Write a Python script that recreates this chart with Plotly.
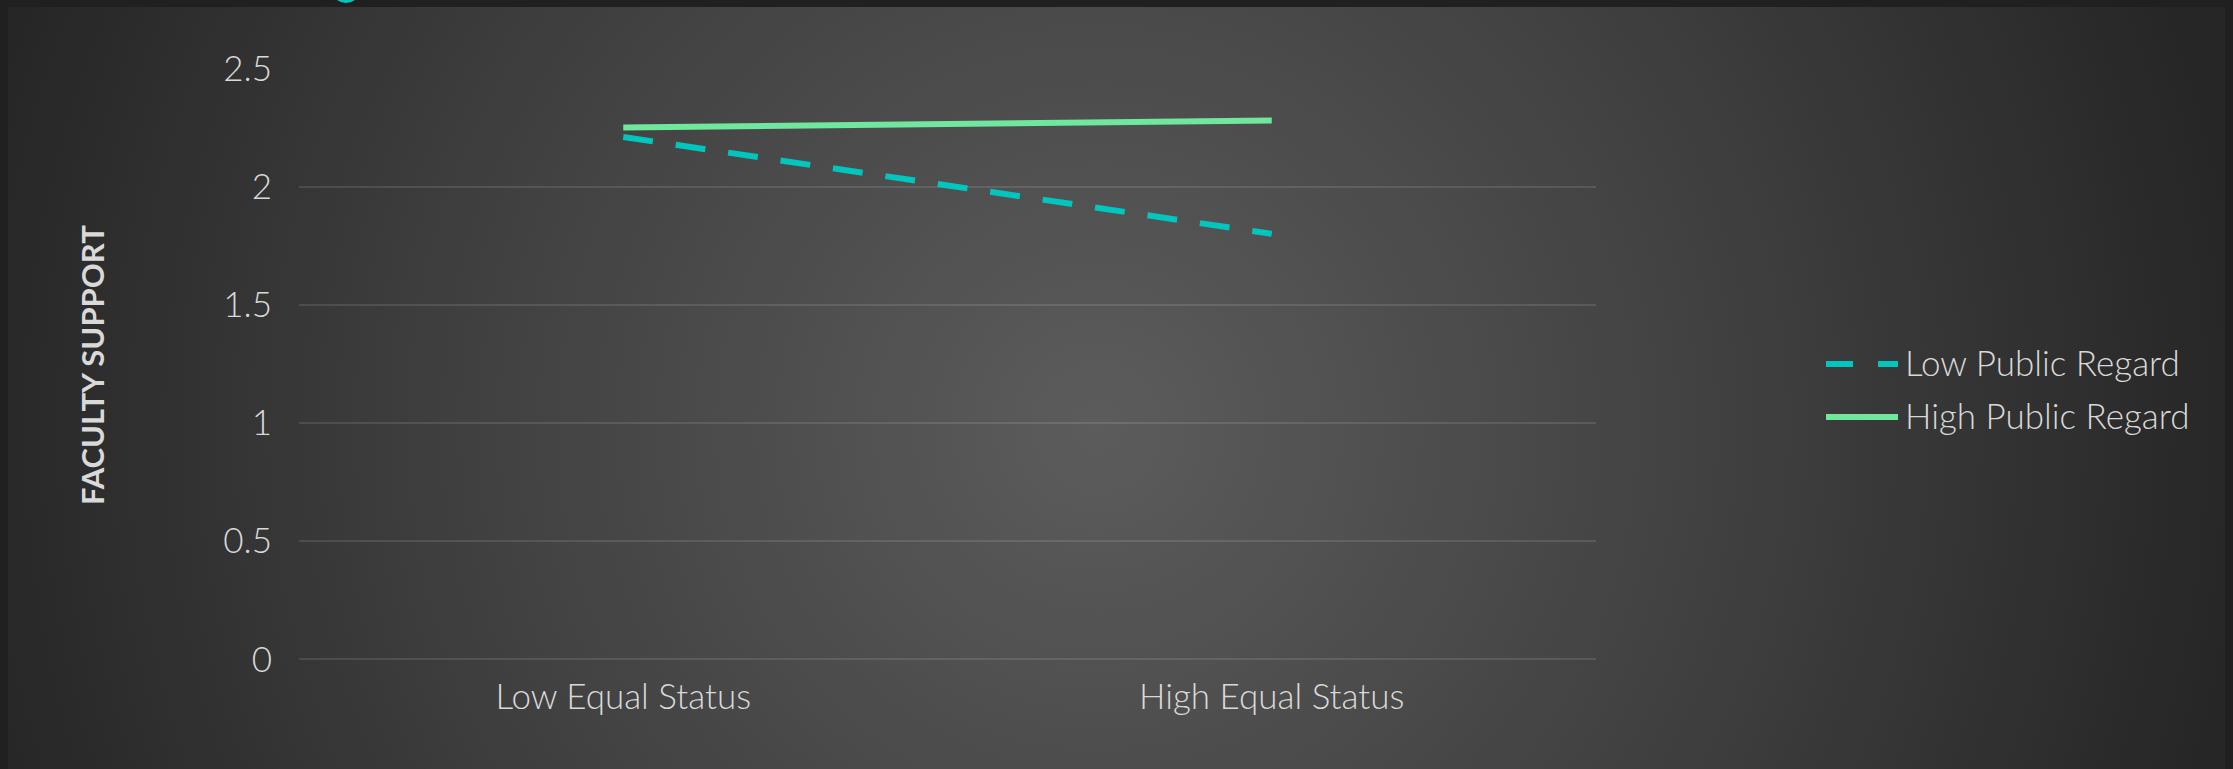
import base64
import plotly.graph_objects as go

# Chart data
categories = ["Low Equal Status", "High Equal Status"]
series_names = ["Low Public Regard", "High Public Regard"]
low_public_regard = [2.21, 1.80]
high_public_regard = [2.25, 2.28]
y_ticks = [0, 0.5, 1, 1.5, 2, 2.5]
y_tick_labels = ["0", "0.5", "1", "1.5", "2", "2.5"]
y_title = "FACULTY SUPPORT"

W, H = 2233, 769
TEAL = "#00c6bd"
GREEN = "#6fe79c"
TEXT = "#d9d9d9"
FONT = "Lato, 'Open Sans', sans-serif"
LABEL_SIZE = 35
LINE_W = 6


def px_x(x):
    return x / W


def px_y(y):
    return 1 - y / H


# Radial gradient backdrop for the slide panel
svg = (
    "<svg xmlns='http://www.w3.org/2000/svg' width='2217' height='762'>"
    "<defs><radialGradient id='g' gradientUnits='userSpaceOnUse' cx='1090' cy='420' r='1150'>"
    "<stop offset='0' stop-color='#5c5c5c'/>"
    "<stop offset='0.55' stop-color='#404040'/>"
    "<stop offset='1' stop-color='#262626'/>"
    "</radialGradient></defs>"
    "<rect width='2217' height='762' fill='url(#g)'/></svg>"
)
bg_src = "data:image/svg+xml;base64," + base64.b64encode(svg.encode()).decode()

fig = go.Figure()
fig.add_trace(go.Scatter(
    x=categories, y=low_public_regard, name=series_names[0], mode="lines",
    line=dict(color=TEAL, width=LINE_W, dash="30px,23px"), showlegend=False,
))
fig.add_trace(go.Scatter(
    x=categories, y=high_public_regard, name=series_names[1], mode="lines",
    line=dict(color=GREEN, width=LINE_W), showlegend=False,
))

plot_left, plot_right = 299, 1596
plot_top, plot_bottom = 68.4, 659.3

fig.update_layout(
    width=W, height=H,
    margin=dict(l=0, r=0, t=0, b=0, autoexpand=False),
    paper_bgcolor="#202020",
    plot_bgcolor="rgba(0,0,0,0)",
    font=dict(family=FONT, color=TEXT, size=LABEL_SIZE, weight=300),
    images=[dict(
        source=bg_src, xref="paper", yref="paper",
        x=px_x(8), y=px_y(7), sizex=(2225 - 8) / W, sizey=(769 - 7) / H,
        xanchor="left", yanchor="top", sizing="stretch", layer="below",
    )],
    xaxis=dict(
        domain=[px_x(plot_left), px_x(plot_right)],
        type="category", range=[-0.5, 1.5], automargin=False,
        showgrid=False, zeroline=False, showline=False, ticks="",
        tickfont=dict(family=FONT, size=LABEL_SIZE, color=TEXT, weight=300),
        ticklabelstandoff=14,
    ),
    yaxis=dict(
        domain=[px_y(plot_bottom), px_y(plot_top)],
        range=[0, 2.5], automargin=False,
        tickvals=y_ticks, ticktext=y_tick_labels,
        showgrid=True, gridcolor="rgba(255,255,255,0.11)", gridwidth=2,
        zeroline=True, zerolinecolor="rgba(255,255,255,0.11)", zerolinewidth=2,
        showline=False, ticks="",
        tickfont=dict(family=FONT, size=LABEL_SIZE, color=TEXT, weight=300),
        ticklabelstandoff=26,
    ),
)

shapes = []
# Teal marker peeking from the top edge
shapes.append(dict(type="circle", xref="paper", yref="paper",
                   x0=px_x(331), x1=px_x(361), y0=px_y(3), y1=px_y(-27),
                   fillcolor=TEAL, line=dict(width=0)))

# Legend keys
leg_x0, leg_x1 = 1826, 1898
leg_rows = [364, 417]
shapes.append(dict(type="line", xref="paper", yref="paper",
                   x0=px_x(leg_x0), x1=px_x(1853), y0=px_y(leg_rows[0]), y1=px_y(leg_rows[0]),
                   line=dict(color=TEAL, width=LINE_W)))
shapes.append(dict(type="line", xref="paper", yref="paper",
                   x0=px_x(1878), x1=px_x(leg_x1), y0=px_y(leg_rows[0]), y1=px_y(leg_rows[0]),
                   line=dict(color=TEAL, width=LINE_W)))
shapes.append(dict(type="line", xref="paper", yref="paper",
                   x0=px_x(leg_x0), x1=px_x(leg_x1), y0=px_y(leg_rows[1]), y1=px_y(leg_rows[1]),
                   line=dict(color=GREEN, width=LINE_W)))
fig.update_layout(shapes=shapes)

annotations = []
for name, row in zip(series_names, leg_rows):
    annotations.append(dict(
        text=name, xref="paper", yref="paper", x=px_x(1903), y=px_y(row - 2),
        xanchor="left", yanchor="middle", showarrow=False,
        font=dict(family=FONT, size=LABEL_SIZE, color=TEXT, weight=300),
    ))
annotations.append(dict(
    text="<b>" + y_title + "</b>", xref="paper", yref="paper",
    x=px_x(92), y=px_y(365), xanchor="center", yanchor="middle",
    textangle=-90, showarrow=False,
    font=dict(family=FONT, size=31, color=TEXT),
))
fig.update_layout(annotations=annotations)

fig.write_html("out.html")
